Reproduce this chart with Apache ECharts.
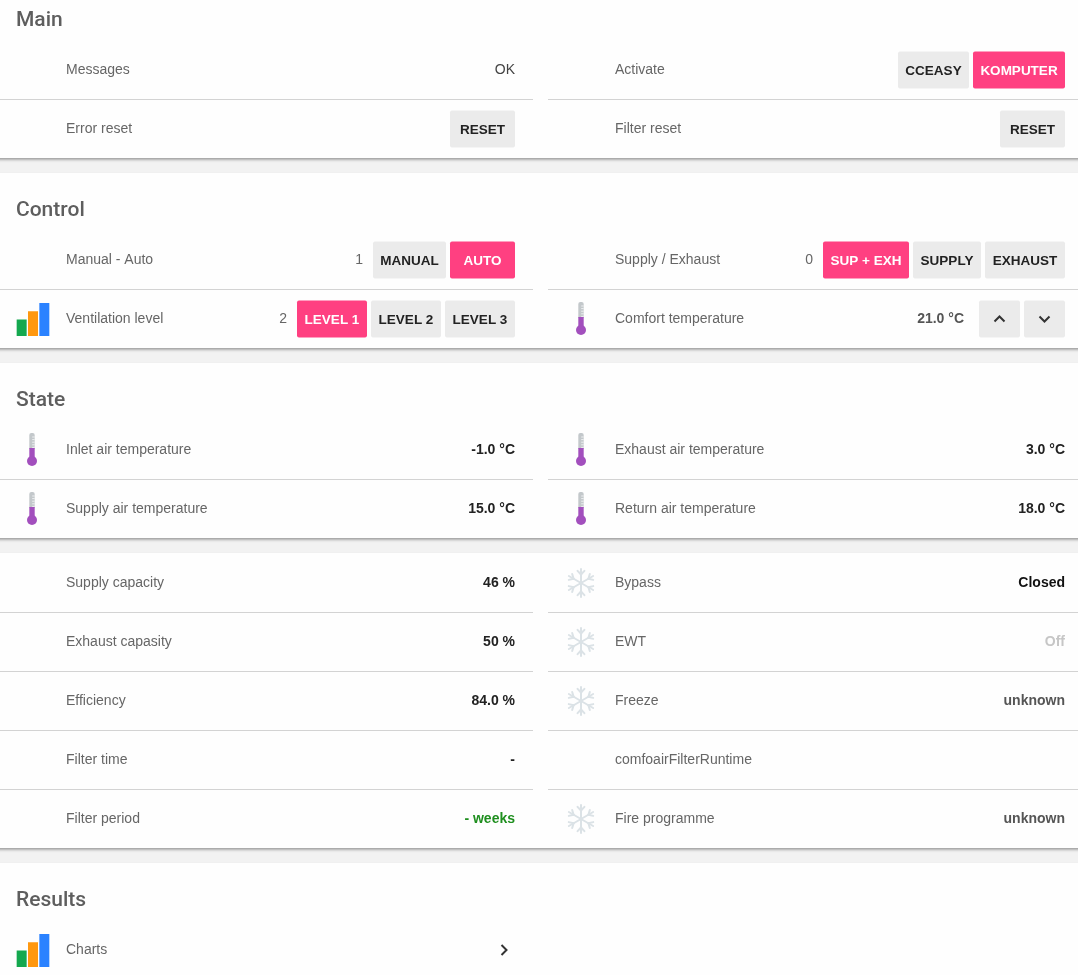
<!DOCTYPE html>
<html>
<head>
<meta charset="UTF-8" />
<title>ComfoAir</title>
<style>
    html, body { margin: 0; padding: 0; background: #f2f2f2; }
    #main { width: 1078px; height: 975px; }
</style>
</head>
<body>
<div id="main"></div>
<script src="https://cdn.jsdelivr.net/npm/echarts@6/dist/echarts.min.js"></script>
<script>
const cardTitles = ["Main", "Control", "State", "", "Results"];

const leftLabels = [
    ["Messages", "Error reset"],
    ["Manual - Auto", "Ventilation level"],
    ["Inlet air temperature", "Supply air temperature"],
    ["Supply capacity", "Exhaust capasity", "Efficiency", "Filter time", "Filter period"],
    ["Charts"],
];
const leftValues = [
    ["OK", ""],
    ["1", "2"],
    ["-1.0 °C", "15.0 °C"],
    ["46 %", "50 %", "84.0 %", "-", "- weeks"],
    [""],
];
const leftButtons = [
    [[], ["RESET"]],
    [["MANUAL", "AUTO"], ["LEVEL 1", "LEVEL 2", "LEVEL 3"]],
    [[], []],
    [[], [], [], [], []],
    [["next"]],
];
const leftIcons = [
    ["", ""],
    ["", "bars"],
    ["thermo", "thermo"],
    ["", "", "", "", ""],
    ["bars"],
];

const rightLabels = [
    ["Activate", "Filter reset"],
    ["Supply / Exhaust", "Comfort temperature"],
    ["Exhaust air temperature", "Return air temperature"],
    ["Bypass", "EWT", "Freeze", "comfoairFilterRuntime", "Fire programme"],
    [],
];
const rightValues = [
    ["", ""],
    ["0", "21.0 °C"],
    ["3.0 °C", "18.0 °C"],
    ["Closed", "Off", "unknown", "", "unknown"],
    [],
];
const rightButtons = [
    [["CCEASY", "KOMPUTER"], ["RESET"]],
    [["SUP + EXH", "SUPPLY", "EXHAUST"], ["up", "down"]],
    [[], []],
    [[], [], [], [], []],
    [],
];
const rightIcons = [
    ["", ""],
    ["", "thermo"],
    ["thermo", "thermo"],
    ["snow", "snow", "snow", "", "snow"],
    [],
];

const activeButtons = ["KOMPUTER", "AUTO", "SUP + EXH", "LEVEL 1"];
const levelBars = [2, 3, 4];

// ---- look ----
const PINK = "#ff4081";
const BTN_GREY = "#ebebeb";
const BAR_COLORS = ["#14a84f", "#ff9810", "#2a82ff"];
const BODY_FONT = "Arial, 'Liberation Sans', sans-serif";
const TITLE_FONT = "Roboto, 'Liberation Sans', sans-serif";
const BTN_FONT = "bold 13.5px " + BODY_FONT;

const valueStyle = {
    "OK": ["normal", "#444"],
    "0": ["normal", "#666"],
    "1": ["normal", "#666"],
    "2": ["normal", "#666"],
    "21.0 °C": ["bold", "#555"],
    "Off": ["bold", "#c6c6c6"],
    "unknown": ["bold", "#555"],
    "- weeks": ["bold", "#1f8f1f"],
    "Closed": ["bold", "#111"],
};

const measureCtx = document.createElement("canvas").getContext("2d");
function btnWidth(name) {
    if (name === "up" || name === "down") return 41;
    measureCtx.font = BTN_FONT;
    return Math.max(65, Math.round(measureCtx.measureText(name).width + 15));
}

const W = 1078;
const GAP = 4;
const cols = [
    { labels: leftLabels, values: leftValues, buttons: leftButtons, icons: leftIcons,
      iconX: 32, labelX: 66, right: 515, sepX1: 0, sepX2: 533 },
    { labels: rightLabels, values: rightValues, buttons: rightButtons, icons: rightIcons,
      iconX: 581, labelX: 615, right: 1065, sepX1: 548, sepX2: 1078 },
];

const cards = [];
const graphics = [];
const grids = [], xAxes = [], yAxes = [], series = [];

function thermo(cx, cy) {
    const els = [];
    els.push({ type: "rect", shape: { x: cx - 2.7, y: cy - 17, width: 5.4, height: 16, r: [2, 2, 0, 0] }, style: { fill: "#c3c8cb" } });
    for (let i = 0; i < 5; i++) {
        els.push({ type: "line", shape: { x1: cx + 0.2, y1: cy - 13 + i * 2.6, x2: cx + 2.7, y2: cy - 13 + i * 2.6 }, style: { stroke: "#f2f4f5", lineWidth: 0.9 } });
    }
    els.push({ type: "rect", shape: { x: cx - 2.7, y: cy - 2, width: 5.4, height: 12 }, style: { fill: "#a24fbd" } });
    els.push({ type: "circle", shape: { cx: cx, cy: cy + 11, r: 5 }, style: { fill: "#a24fbd" } });
    return els;
}

function snow(cx, cy) {
    const els = [];
    const st = { stroke: "#dbe2e6", lineWidth: 2, lineCap: "round" };
    const R = 14;
    for (let k = 0; k < 6; k++) {
        const a = (k * 60 + 90) * Math.PI / 180;
        const ex = cx + R * Math.cos(a), ey = cy - R * Math.sin(a);
        els.push({ type: "line", shape: { x1: cx, y1: cy, x2: ex, y2: ey }, style: st });
        const bx = cx + 8.5 * Math.cos(a), by = cy - 8.5 * Math.sin(a);
        [-1, 1].forEach((s) => {
            const b = a + s * 0.75;
            els.push({ type: "line", shape: { x1: bx, y1: by, x2: bx + 5 * Math.cos(b), y2: by - 5 * Math.sin(b) }, style: st });
        });
    }
    return els;
}

function chevron(cx, cy, dir) {
    let pts;
    if (dir === "up") pts = [[cx - 5, cy + 2.5], [cx, cy - 2.5], [cx + 5, cy + 2.5]];
    else if (dir === "down") pts = [[cx - 5, cy - 2.5], [cx, cy + 2.5], [cx + 5, cy - 2.5]];
    else pts = [[cx - 2.5, cy - 5], [cx + 2.5, cy], [cx - 2.5, cy + 5]];
    return { type: "polyline", shape: { points: pts }, style: { stroke: "#333", lineWidth: 2, fill: null } };
}

function barIcon(x, cy) {
    const i = grids.length;
    grids.push({ left: x, top: cy - 16, width: 34, height: 33 });
    xAxes.push({ type: "category", gridIndex: i, data: ["a", "b", "c"], show: false });
    yAxes.push({ type: "value", gridIndex: i, min: 0, max: 4, show: false });
    series.push({
        type: "bar", xAxisIndex: i, yAxisIndex: i, barWidth: 10, silent: true,
        data: levelBars.map((v, j) => ({ value: v, itemStyle: { color: BAR_COLORS[j] } })),
    });
}

let cardTop = -17;
cardTitles.forEach((title, c) => {
    const nRows = Math.max(cols[0].labels[c].length, cols[1].labels[c].length);
    const firstRow = cardTop + (title ? 87 : 30);
    const lastRow = firstRow + (nRows - 1) * 59;
    const bottom = c === cardTitles.length - 1 ? 1000 : lastRow + 29;
    cards.push({ type: "rect", shape: { x: -5, y: cardTop, width: W + 10, height: bottom - cardTop },
        style: { fill: "#fefefe", shadowBlur: 3, shadowOffsetY: 1.5, shadowColor: "rgba(0,0,0,0.4)" } });
    if (title) {
        graphics.push({ type: "text", style: { text: title, x: 16, y: cardTop + 38, font: "500 21px " + TITLE_FONT,
            fill: "#5e5e5e", textVerticalAlign: "middle" } });
    }
    cols.forEach((col) => {
        const labels = col.labels[c];
        labels.forEach((label, r) => {
            const cy = firstRow + r * 59;
            if (r > 0) {
                const sy = cy - 29.5;
                graphics.push({ type: "line", shape: { x1: col.sepX1, y1: sy, x2: col.sepX2, y2: sy }, style: { stroke: "#d3d3d3", lineWidth: 1.2 } });
            }
            const icon = col.icons[c][r];
            if (icon === "thermo") graphics.push(...thermo(col.iconX, cy));
            if (icon === "snow") graphics.push(...snow(col.iconX, cy));
            if (icon === "bars") barIcon(16, cy);

            graphics.push({ type: "text", style: { text: label, x: col.labelX, y: cy, font: "14px " + BODY_FONT,
                fill: "#666", textVerticalAlign: "middle" } });

            // buttons from right to left
            let x = col.right;
            const btns = col.buttons[c][r] || [];
            btns.slice().reverse().forEach((b) => {
                if (b === "next") {
                    graphics.push(chevron(col.right - 11, cy, "next"));
                    x = col.right - 30;
                    return;
                }
                const w = btnWidth(b);
                const active = activeButtons.includes(b);
                graphics.push({ type: "rect", shape: { x: x - w, y: cy - 18.5, width: w, height: 37, r: 2 },
                    style: { fill: active ? PINK : BTN_GREY } });
                if (b === "up" || b === "down") {
                    graphics.push(chevron(x - w / 2, cy, b));
                } else {
                    graphics.push({ type: "text", style: { text: b, x: x - w / 2, y: cy + 1, font: BTN_FONT,
                        fill: active ? "#fff" : "#222", textAlign: "center", textVerticalAlign: "middle" } });
                }
                x -= w + GAP;
            });

            const val = col.values[c][r];
            if (val) {
                const vs = valueStyle[val] || ["bold", "#222"];
                const vx = btns.length ? x + GAP - (val.length > 2 ? 15 : 10) : col.right;
                graphics.push({ type: "text", style: { text: val, x: vx, y: cy, font: vs[0] + " 14px " + BODY_FONT,
                    fill: vs[1], textAlign: "right", textVerticalAlign: "middle" } });
            }
        });
    });
    cardTop = bottom + 15;
});

const chart = echarts.init(document.getElementById("main"));
chart.setOption({
    animation: false,
    backgroundColor: "#f2f2f2",
    grid: grids,
    xAxis: xAxes,
    yAxis: yAxes,
    series: series,
    graphic: { elements: cards.concat(graphics) },
});
</script>
</body>
</html>
